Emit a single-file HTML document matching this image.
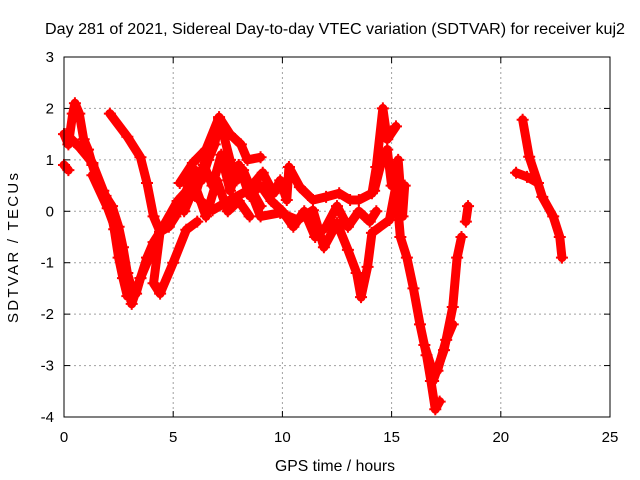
<!DOCTYPE html>
<html><head><meta charset="utf-8"><style>
body{margin:0;background:#fff;}
svg{display:block;font-family:"Liberation Sans",sans-serif;}
</style></head><body>
<svg id="chart" width="640" height="480">
<text x="335" y="34" font-size="16" text-anchor="middle" textLength="580" lengthAdjust="spacingAndGlyphs">Day 281 of 2021, Sidereal Day-to-day VTEC variation (SDTVAR) for receiver kuj2</text>
<text x="335" y="471" font-size="16" text-anchor="middle" textLength="120" lengthAdjust="spacingAndGlyphs">GPS time / hours</text>
<text x="18" y="248" font-size="15" text-anchor="middle" textLength="150" lengthAdjust="spacing" transform="rotate(-90 18 248)">SDTVAR / TECUs</text>
<g id="grid"></g><g id="ticks"></g><g id="marks"></g>
<rect x="64" y="57" width="546" height="360" fill="none" stroke="#000" stroke-width="1"/>
</svg>
<script>
const xTicks=[0,5,10,15,20,25];
const yTicks=[-4,-3,-2,-1,0,1,2,3];
const trackA=[[0,1.5],[0.2,1.3],[0.4,1.9],[0.5,2.1],[0.7,1.9],[0.9,1.4],[1.1,1.2],[1.3,0.9],[1.6,0.5],[1.9,0.3],[2.2,0.1],[2.5,-0.3],[2.7,-0.7],[2.9,-1.2],[3.1,-1.5],[3.3,-1.6],[3.5,-1.3],[3.8,-0.9],[4.1,-0.6],[4.4,-0.4],[4.8,-0.3],[5.1,-0.1],[5.4,0.2],[5.7,0.5],[6,0.8],[6.3,0.6],[6.6,1.0],[6.9,1.3],[7.1,1.8],[7.3,1.5],[7.6,1.0],[7.9,0.6],[8.2,0.8],[8.6,0.4],[9,0.1]];
const trackB=[[0,0.9],[0.2,0.8]];
const trackC=[[0.1,1.5],[0.7,1.25],[1.3,0.94],[1.8,0.4],[2.1,0.1],[2.3,-0.35],[2.5,-0.9],[2.7,-1.3],[2.9,-1.65]];
const trackD=[[1.3,0.7],[2.0,0.06],[2.4,-0.4],[2.9,-1.3],[3.1,-1.8],[3.5,-1.3],[4.4,-0.4],[5.2,0.2],[6.2,0.67],[7.1,1.7]];
const trackE=[[2.1,1.9],[2.9,1.45],[3.5,1.05],[3.8,0.55],[4.1,-0.1],[4.4,-0.4],[4.1,-1.4],[4.4,-1.6],[5,-1.0],[5.6,-0.36],[6.1,-0.2]];
const trackF=[[5.3,0.55],[5.9,0.94],[6.5,1.2],[7.1,1.83],[7.6,1.5],[8.1,1.3],[8.4,1.0],[9,1.05]];
const trackG=[[6.2,0.22],[6.8,0.02],[7.6,0.22],[8.4,0.4],[9.1,0.75],[9.6,0.35],[9.9,0.6],[10.2,0.22],[10.3,0.86],[10.8,0.47],[11.4,0.22],[12,0.28],[12.6,0.35],[13.1,0.22],[13.5,0.22],[14.1,0.35],[14.3,0.86],[14.6,2.0],[14.8,1.4],[15.2,1.65]];
const trackH=[[8.4,0.55],[9,-0.1],[9.9,-0.03],[10.7,-0.17],[11.4,0.02],[11.9,-0.7],[12.5,-0.23],[13,-0.75],[13.4,-1.2],[13.6,-1.67],[13.9,-1.08],[14.1,-0.42],[14.9,-0.17],[15.2,0.5],[15.4,-0.5],[15.7,-0.9],[16,-1.5],[16.3,-2.2],[16.6,-2.8],[16.8,-3.3],[17.0,-3.85],[17.2,-3.7]];
const trackI=[[16.9,-3.3],[17.4,-2.7],[17.8,-1.86],[18.0,-0.9],[18.2,-0.5]];
const trackJ=[[18.4,-0.2],[18.5,0.1]];
const trackK=[[20.7,0.75],[21.2,0.67],[21.7,0.55],[21.9,0.28],[22.4,-0.1],[22.7,-0.5],[22.8,-0.9]];
const trackL=[[21,1.78],[21.3,1.06],[21.7,0.55]];
const trackM=[[6,0.3],[6.4,0.9],[6.8,0.5],[7.2,1.1],[7.6,0.4],[8.0,0.9],[8.5,0.3],[9.0,0.5],[9.5,0.2],[10,0.0],[10.5,-0.3],[11,0.0],[11.5,-0.5],[12,-0.3],[12.5,0.1],[13,-0.3],[13.5,0.0],[14,-0.2],[14.3,0.0]];
const trackN=[[14.2,0.4],[14.5,0.9],[14.8,1.2],[15.0,0.5],[15.3,1.0],[15.5,-0.1],[15.6,0.5]];
const trackO=[[5.5,0.0],[6.0,0.5],[6.5,-0.1],[7.0,0.6],[7.5,0.0],[8.0,0.2],[8.5,-0.1]];
const trackP=[[16.5,-2.6],[16.8,-3.0],[17.1,-3.1],[17.5,-2.5],[17.8,-2.2]];
const tracks=[trackA,trackB,trackC,trackD,trackE,trackF,trackG,trackH,trackI,trackJ,trackK,trackL,trackM,trackN,trackO,trackP];
const NS='http://www.w3.org/2000/svg';
const xs=v=>64+v*(546/25);
const ys=v=>57+(3-v)*(360/7);
function mk(t,a,p){const e=document.createElementNS(NS,t);for(const k in a)e.setAttribute(k,a[k]);p.appendChild(e);return e;}
const grid=document.getElementById('grid'),ticks=document.getElementById('ticks'),marks=document.getElementById('marks');
xTicks.forEach(v=>{const x=xs(v);
 if(v>0&&v<25){const g=mk('line',{x1:x,x2:x,y1:57,y2:417,stroke:'#a0a0a0','stroke-dasharray':'2,3'},grid);}
 mk('line',{x1:x,x2:x,y1:417,y2:411,stroke:'#000'},ticks);mk('line',{x1:x,x2:x,y1:57,y2:63,stroke:'#000'},ticks);
 const t=mk('text',{x:x,y:442,'font-size':15,'text-anchor':'middle'},ticks);t.textContent=v;
 });
yTicks.forEach(v=>{const y=ys(v);
 if(v>-4&&v<3){const g=mk('line',{x1:64,x2:610,y1:y,y2:y,stroke:'#a0a0a0','stroke-dasharray':'2,3'},grid);}
 mk('line',{x1:64,x2:70,y1:y,y2:y,stroke:'#000'},ticks);mk('line',{x1:604,x2:610,y1:y,y2:y,stroke:'#000'},ticks);
 const t=mk('text',{x:54,y:y+5,'font-size':15,'text-anchor':'end'},ticks);t.textContent=v;
 });
tracks.forEach(tr=>{
 const pts=tr.map(p=>xs(p[0])+','+ys(p[1])).join(' ');
 const pl=mk('polyline',{points:pts,fill:'none',stroke:'#f00','stroke-width':9,'stroke-linejoin':'round','stroke-linecap':'round'},marks);
 
 
 tr.forEach(p=>{const x=xs(p[0]),y=ys(p[1]);
  const m=mk('path',{d:`M${x-6},${y}H${x+6}M${x},${y-6}V${y+6}`,stroke:'#f00','stroke-width':2},marks);
  
  });
});
</script>
</body></html>
